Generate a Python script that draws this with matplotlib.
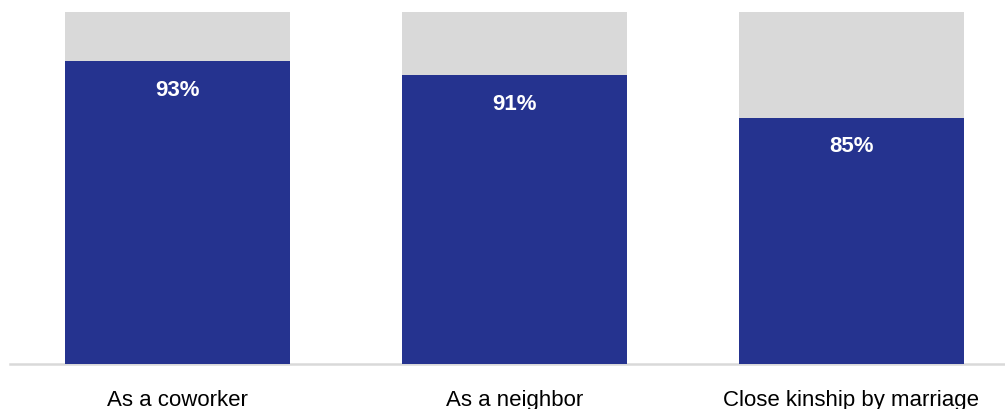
import matplotlib
matplotlib.use('Agg')
from matplotlib import pyplot as plt

categorias = ['As a coworker', 'As a neighbor', 'Close kinship by marriage']
valores = [93, 91, 85]
resto = [100 - v for v in valores]

plt.rcParams['font.family'] = ['Liberation Sans', 'DejaVu Sans']

fig = plt.figure(figsize=(10.05, 4.1), dpi=100)
ax = fig.add_axes([10/1005, 1 - 365/410, 995/1005, (365 - 13)/410])

pos = range(len(categorias))
ax.bar(pos, valores, width=0.668, color='#25338F', zorder=2)
ax.bar(pos, resto, bottom=valores, width=0.668, color='#D9D9D9', zorder=2)

for p, v in zip(pos, valores):
    ax.text(p, v - 4, f'{v}%', ha='center', va='center', color='white',
            fontsize=16, fontweight='bold')

ax.set_ylim(50, 100)
ax.set_xlim(-0.497, 2.457)
ax.set_xticks(list(pos))
ax.set_xticklabels(categorias, fontsize=16)
ax.tick_params(axis='x', length=0, pad=18)
ax.set_yticks([])
for s in ['top', 'right', 'left']:
    ax.spines[s].set_visible(False)
ax.spines['bottom'].set_color('#D9D9D9')
ax.spines['bottom'].set_linewidth(1.8)
ax.spines['bottom'].set_zorder(1)

fig.savefig('out.png', dpi=100)
